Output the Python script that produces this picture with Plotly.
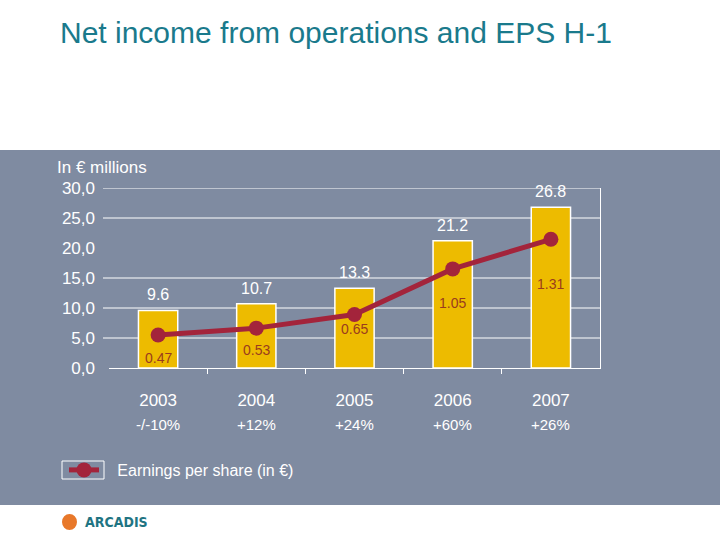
import plotly.graph_objects as go

years = ['2003', '2004', '2005', '2006', '2007']
net_income = [9.6, 10.7, 13.3, 21.2, 26.8]
eps = [0.47, 0.53, 0.65, 1.05, 1.31]
eps_text = ['0.47', '0.53', '0.65', '1.05', '1.31']
growth = ['-/-10%', '+12%', '+24%', '+60%', '+26%']
y_ticks = [0, 5, 10, 15, 20, 25, 30]
y_ticktext = ['0,0', '5,0', '10,0', '15,0', '20,0', '25,0', '30,0']
grid_levels = [5, 10, 15, 25, 30]  # no line at 20 in the original

# category positions on a numeric axis
xpos = list(range(len(years)))
boundaries = [i + 0.5 for i in xpos[:-1]]

# pixel layout of the 720x540 slide
W, H = 720, 540
L, R, T, B = 109, 120, 188, 172
PW, PH = W - L - R, H - T - B


def px_x(p):
    return (p - L) / PW


def px_y(p):
    return (H - B - p) / PH


FONT = 'Liberation Sans, Arial, sans-serif'
PANEL = '#7F8BA1'
BAR = '#EDBB00'
RED = '#A3243B'

fig = go.Figure()

fig.add_trace(go.Bar(
    x=xpos, y=net_income, width=0.4,
    marker=dict(color=BAR, line=dict(color='white', width=1.5)),
    showlegend=False, hoverinfo='skip'
))

fig.add_trace(go.Scatter(
    x=xpos, y=eps, yaxis='y2', mode='lines+markers',
    name='\u00a0\u00a0\u00a0Earnings per share (in €)',
    line=dict(color=RED, width=5),
    marker=dict(color=RED, size=15)
))

shapes = [
    # grey panel behind the chart
    dict(type='rect', xref='paper', yref='paper', layer='below',
         x0=px_x(0), x1=px_x(W), y0=px_y(505), y1=px_y(150),
         fillcolor=PANEL, line=dict(width=0)),
    # box around the legend symbol
    dict(type='rect', xref='paper', yref='paper',
         x0=px_x(62), x1=px_x(104), y0=px_y(479), y1=px_y(461),
         line=dict(color='white', width=1)),
    # logo mark
    dict(type='circle', xref='paper', yref='paper',
         x0=px_x(62), x1=px_x(77), y0=px_y(530), y1=px_y(514),
         fillcolor='#E8782A', line=dict(width=0)),
]
for g in grid_levels:
    shapes.append(dict(type='line', xref='paper', yref='y', layer='below',
                       x0=px_x(103), x1=1, y0=g, y1=g,
                       line=dict(color='white', width=1)))

annotations = []
for xp, v in zip(xpos, net_income):
    annotations.append(dict(x=xp, y=v, xref='x', yref='y', text=f'{v}',
                            showarrow=False, xanchor='center', yanchor='bottom',
                            yshift=5,
                            font=dict(family=FONT, size=16, color='white')))

eps_shift = [-23, -22, -15, -34, -45]
for xp, v, t, s in zip(xpos, eps, eps_text, eps_shift):
    annotations.append(dict(x=xp, y=v, xref='x', yref='y2', text=t,
                            showarrow=False, xanchor='center', yanchor='middle',
                            yshift=s,
                            font=dict(family=FONT, size=14, color='#9A3B1E')))

for xp, g in zip(xpos, growth):
    annotations.append(dict(x=xp, y=px_y(424), xref='x', yref='paper', text=g,
                            showarrow=False, xanchor='center', yanchor='middle',
                            font=dict(family=FONT, size=15, color='white')))

annotations.append(dict(x=px_x(55), y=px_y(167), xref='paper', yref='paper',
                        text='In € millions', showarrow=False,
                        xanchor='left', yanchor='middle',
                        font=dict(family=FONT, size=17, color='white')))
annotations.append(dict(x=px_x(83), y=px_y(522), xref='paper', yref='paper',
                        text='<b>ARCADIS</b>', showarrow=False,
                        xanchor='left', yanchor='middle',
                        font=dict(family='DejaVu Sans Condensed, Liberation Sans Narrow, Liberation Sans, sans-serif',
                                  size=14, color='#1F7482')))

fig.update_layout(
    width=W, height=H,
    margin=dict(l=L, r=R, t=T, b=B),
    paper_bgcolor='white',
    plot_bgcolor='rgba(0,0,0,0)',
    title=dict(text='Net income from operations and EPS H-1',
               x=60 / W, xanchor='left', y=1 - 32 / H, yanchor='middle',
               font=dict(family=FONT, size=30, color='#1A7A8C')),
    xaxis=dict(range=[-0.5, len(years) - 0.5], tickvals=xpos, ticktext=years,
               showgrid=False, zeroline=False, showline=True, linecolor='white',
               linewidth=1, ticks='', ticklabelstandoff=17,
               tickfont=dict(family=FONT, size=17, color='white'),
               minor=dict(tickvals=boundaries, ticks='outside', ticklen=5,
                          tickcolor='white', showgrid=False)),
    yaxis=dict(range=[0, 30], tickvals=y_ticks, ticktext=y_ticktext,
               showgrid=False, zeroline=False, showline=False,
               ticklabelstandoff=13,
               tickfont=dict(family=FONT, size=17, color='white')),
    yaxis2=dict(overlaying='y', side='right', range=[0.18, 1.76],
                showgrid=False, zeroline=False, showticklabels=False,
                showline=True, linecolor='white', linewidth=1),
    legend=dict(x=px_x(64), y=px_y(470), xanchor='left', yanchor='middle',
                bgcolor='rgba(0,0,0,0)', itemwidth=30,
                font=dict(family=FONT, size=16, color='white')),
    shapes=shapes,
    annotations=annotations,
    showlegend=True,
)

fig.write_html('out.html', config={'displayModeBar': False},
               post_script="document.body.style.margin='0';")
